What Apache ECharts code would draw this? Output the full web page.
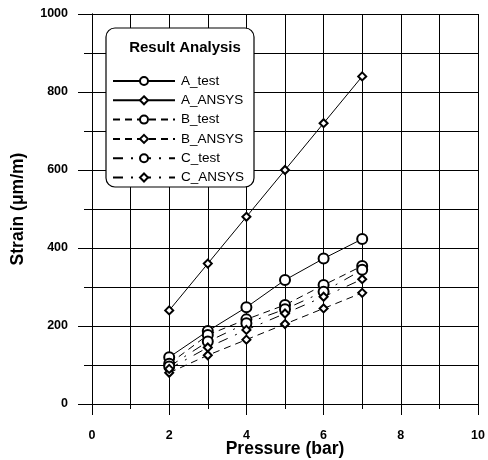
<!DOCTYPE html>
<html><head><meta charset="utf-8">
<script src="https://cdn.jsdelivr.net/npm/echarts@6/dist/echarts.min.js"></script>
<style>html,body{margin:0;padding:0;background:#fff}#c{width:488px;height:460px}</style>
</head><body><div id="c"></div>
<script>
const pressure = [2, 3, 4, 5, 6, 7];
const A_test  = [120, 187, 248, 318, 373, 423];
const A_ANSYS = [240, 360, 480, 600, 720, 840];
const B_test  = [103, 177, 217, 254, 305, 354];
const B_ANSYS = [80, 125, 165, 205, 245, 285];
const C_test  = [96, 160, 207, 243, 288, 344];
const C_ANSYS = [90, 145, 190, 232, 275, 320];
const seriesNames = ['A_test','A_ANSYS','B_test','B_ANSYS','C_test','C_ANSYS'];
const xTicks = [0, 2, 4, 6, 8, 10];
const yTicks = [0, 200, 400, 600, 800, 1000];
const FONT = '"Liberation Sans", Arial, sans-serif';

const pairs = arr => pressure.map((p,i)=>[p, arr[i]]);
function mk(name, data, symbol, size, type){
  return {name, type:'line', data:pairs(data), symbol, symbolSize:size,
    xAxisIndex:0, yAxisIndex:0,
    lineStyle:{color:'#000', width:1, type:type},
    itemStyle:{color:'#000', borderColor:'#000', borderWidth:1.3},
    z:3};
}
const black = {color:'#000', width:1};
const chart = echarts.init(document.getElementById('c'), null, {renderer:'canvas'});
chart.setOption({
  animation:false,
  backgroundColor:'#fff',
  grid:{left:92, right:10, top:14, bottom:56, containLabel:false, outerBoundsMode:'none'},
  title:{text:'Result Analysis', left:180, top:35, textAlign:'center',
    textStyle:{fontFamily:FONT, fontWeight:'bold', fontSize:15, color:'#000'}, z:7},
  graphic:[{type:'rect', shape:{x:106,y:28,width:148,height:159,r:9},
    style:{fill:'#fff', stroke:'#000', lineWidth:1.2}, z:5}],
  legend:{data:seriesNames, orient:'vertical', left:112, top:74, itemWidth:62, itemHeight:10, itemGap:5.3,
    textStyle:{fontFamily:FONT, fontSize:13.5, color:'#000', padding:[0,0,0,1]}, z:6, padding:0},
  xAxis:[
    {type:'value', min:0, max:10, interval:1, position:'bottom',
     axisLine:{show:true, lineStyle:black},
     axisTick:{show:true, length:5, lineStyle:black},
     splitLine:{show:true, lineStyle:black},
     axisLabel:{show:false}},
    {type:'value', min:xTicks[0], max:xTicks[xTicks.length-1], interval:xTicks[1]-xTicks[0], position:'bottom',
     name:'Pressure (bar)', nameLocation:'middle', nameGap:36, nameMoveOverlap:false,
     nameTextStyle:{fontFamily:FONT, fontWeight:'bold', fontSize:17.5, color:'#000'},
     axisLine:{show:true, lineStyle:black},
     axisTick:{show:true, length:11, lineStyle:black},
     splitLine:{show:false},
     axisLabel:{fontFamily:FONT, fontWeight:'bold', fontSize:12.5, color:'#000', margin:25,
       formatter:v=>String(v)}}
  ],
  yAxis:[
    {type:'value', min:0, max:1000, interval:100, position:'left',
     axisLine:{show:true, lineStyle:black},
     axisTick:{show:true, length:8, lineStyle:black},
     splitLine:{show:true, lineStyle:black},
     axisLabel:{show:false}},
    {type:'value', min:yTicks[0], max:yTicks[yTicks.length-1], interval:yTicks[1]-yTicks[0], position:'left',
     name:'Strain (\u03bcm/m)', nameLocation:'middle', nameGap:65, nameMoveOverlap:false,
     nameTextStyle:{fontFamily:FONT, fontWeight:'bold', fontSize:17.5, color:'#000'},
     axisLine:{show:true, lineStyle:black},
     axisTick:{show:true, length:14, lineStyle:black},
     splitLine:{show:false},
     axisLabel:{fontFamily:FONT, fontWeight:'bold', fontSize:12.5, color:'#000', margin:24,
       formatter:v=>String(v)}}
  ],
  series:[
    mk('A_test', A_test, 'emptyCircle', 10, 'solid'),
    mk('A_ANSYS', A_ANSYS, 'emptyDiamond', 8, 'solid'),
    mk('B_test', B_test, 'emptyCircle', 10, [7,5]),
    mk('B_ANSYS', B_ANSYS, 'emptyDiamond', 8, [7,5]),
    mk('C_test', C_test, 'emptyCircle', 10, [10,8,2,8]),
    mk('C_ANSYS', C_ANSYS, 'emptyDiamond', 8, [10,8,2,8])
  ]
});
</script></body></html>
